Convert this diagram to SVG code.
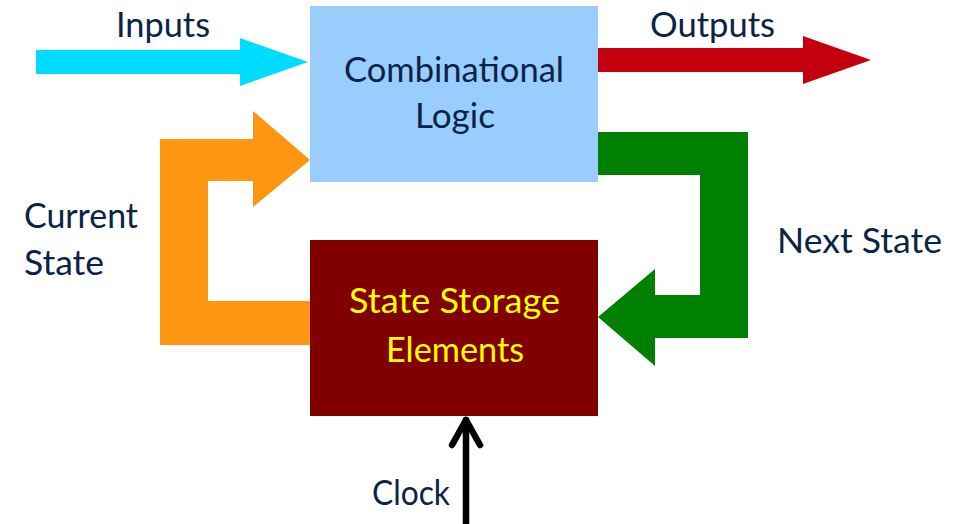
<svg xmlns="http://www.w3.org/2000/svg" width="963" height="524" viewBox="0 0 963 524">
  <style>
    .lbl { font-family: Lato, "Open Sans", "DejaVu Sans", sans-serif; font-size: 34px; fill: #0b2346; }
    .inbox { text-anchor: middle; }
    .store { fill: #ffff00; }
  </style>
  <rect width="963" height="524" fill="#ffffff"/>

  <!-- connectors -->
  <g id="connectors">
    <polygon id="inputs-arrow" fill="#00dcff" points="36,50 240,50 240,38 308,62 240,86 240,74 36,74"/>
    <polygon id="outputs-arrow" fill="#c4000e" points="598,48 803,48 803,36 871,60 803,84 803,72 598,72"/>
    <polygon id="current-state-arrow" fill="#fe9612" points="310,301 208,301 208,181 253,181 253,207 310,160 253,111 253,139 160,139 160,345 310,345"/>
    <polygon id="next-state-arrow" fill="#008000" points="598,132 748,132 748,338 655,338 655,366 598,317 655,269 655,295 700,295 700,175 598,175"/>
    <g id="clock-arrow" fill="none" stroke="#000000" stroke-width="6.5" stroke-linecap="round" stroke-linejoin="round">
      <line x1="466" y1="530" x2="466" y2="420"/>
      <polyline points="452,445 466,420 480,445"/>
    </g>
    <text class="lbl" x="116" y="37" textLength="94" lengthAdjust="spacingAndGlyphs">Inputs</text>
    <text class="lbl" x="650" y="37" textLength="125" lengthAdjust="spacingAndGlyphs">Outputs</text>
    <text class="lbl" x="24" y="228" textLength="114" lengthAdjust="spacingAndGlyphs">Current</text>
    <text class="lbl" x="24" y="275" textLength="80" lengthAdjust="spacingAndGlyphs">State</text>
    <text class="lbl" x="777" y="253" textLength="165" lengthAdjust="spacingAndGlyphs">Next State</text>
    <text class="lbl" x="372" y="505" textLength="78" lengthAdjust="spacingAndGlyphs">Clock</text>
  </g>

  <!-- combinational logic block -->
  <g id="combinational-logic">
    <rect x="310" y="6" width="288" height="176" fill="#99ccff"/>
    <text class="lbl inbox" x="454" y="82" textLength="220" lengthAdjust="spacingAndGlyphs">Combinational</text>
    <text class="lbl inbox" x="455" y="128" textLength="80" lengthAdjust="spacingAndGlyphs">Logic</text>
  </g>

  <!-- state storage block -->
  <g id="state-storage">
    <rect x="310" y="240" width="288" height="176" fill="#800000"/>
    <text class="lbl inbox store" x="454.5" y="313" textLength="211" lengthAdjust="spacingAndGlyphs">State Storage</text>
    <text class="lbl inbox store" x="455" y="362" textLength="138" lengthAdjust="spacingAndGlyphs">Elements</text>
  </g>
</svg>
